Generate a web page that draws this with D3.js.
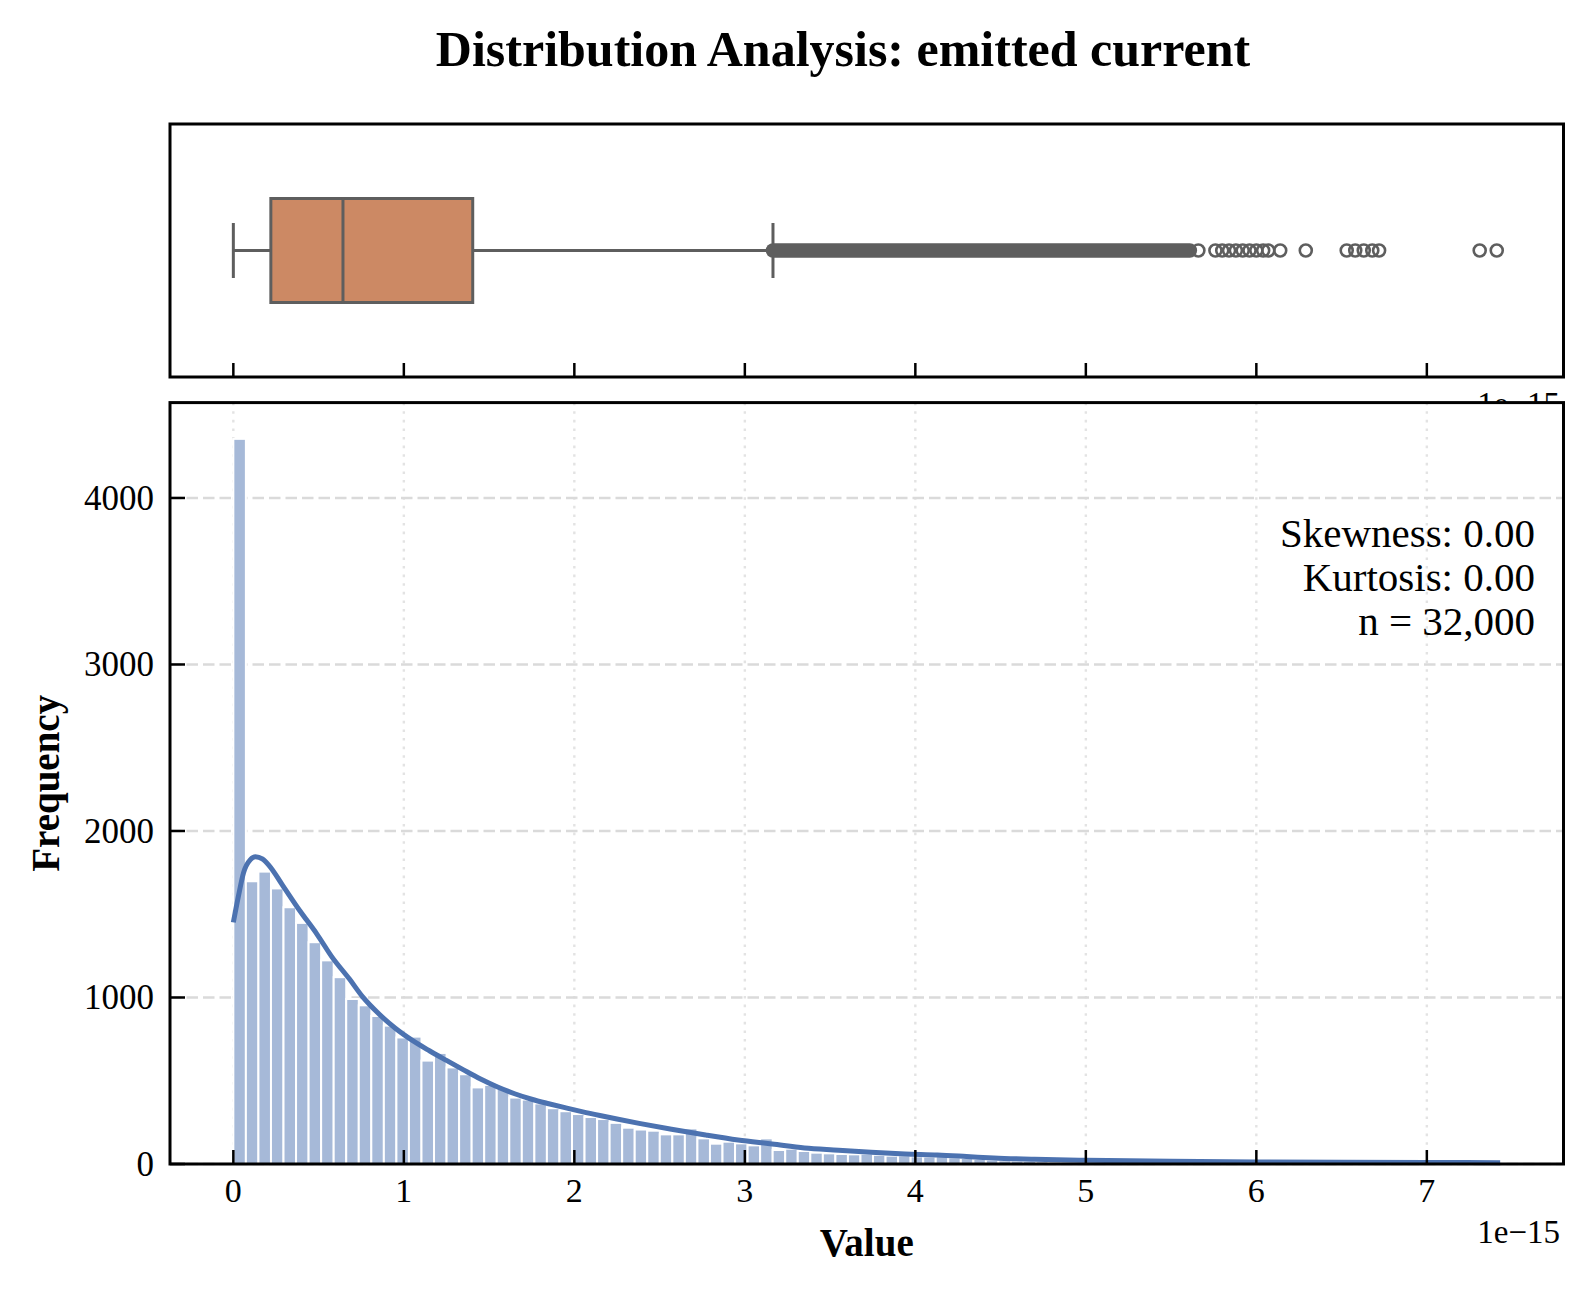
<!DOCTYPE html>
<html>
<head>
    <title>Distribution Analysis: emitted current</title>
    <script src="https://d3js.org/d3.v7.min.js"></script>
    <style>
        body { margin: 0; background: #fff; }
        svg text { font-family: "Liberation Serif", "Times New Roman", serif; fill: #000; }
    </style>
</head>
<body>
    <div id="chart"></div>

    <script>
        // histogram counts, values in units of 1e-15 (101 bins from 0 to dataMax)
        const dataMax = 7.43;
        const histCounts = [
            4355, 1698, 1756, 1655, 1542, 1448, 1332, 1223, 1122, 991,
            953, 889, 831, 760, 765, 621, 667, 580, 539, 460,
            475, 451, 399, 387, 364, 335, 317, 300, 282, 270,
            247, 218, 207, 200, 178, 178, 214, 154, 122, 134,
            124, 112, 154, 84, 92, 78, 68, 64, 60, 58,
            62, 55, 50, 52, 46, 44, 48, 40, 36, 30,
            26, 22, 20, 18, 16, 14, 13, 12, 10, 9,
            8, 7, 7, 6, 5, 5, 4, 3, 3, 2,
            2, 3, 2, 1, 1, 1, 0, 0, 1, 1,
            2, 1, 0, 0, 0, 0, 0, 0, 0, 1,
            1
        ];

        // KDE curve: value / count pairs
        const kdeX = [0.00, 0.03, 0.06, 0.10, 0.13, 0.17, 0.21, 0.29, 0.39, 0.49,
                      0.58, 0.68, 0.76, 0.85, 0.95, 1.05, 1.15, 1.25, 1.35, 1.45,
                      1.55, 1.65, 1.75, 1.85, 1.95, 2.05, 2.15, 2.25, 2.38, 2.57,
                      2.77, 2.96, 3.16, 3.35, 3.55, 3.74, 3.94, 4.13, 4.30, 4.46,
                      4.70, 5.00, 5.50, 6.00, 6.50, 7.00, 7.43];
        const kdeY = [1451, 1610, 1750, 1828, 1845, 1832, 1792, 1672, 1521, 1381,
                      1241, 1112, 1002, 905, 815, 742, 680, 622, 565, 510,
                      462, 422, 389, 362, 337, 313, 291, 270, 244, 209,
                      174, 144, 120, 96, 83, 70, 60, 54, 45, 36,
                      28, 22, 16, 12, 10, 9, 8];

        // box plot summary
        const boxStats = { whiskerLo: 0.0, q1: 0.22, median: 0.643, q3: 1.404, whiskerHi: 3.165 };
        const denseOutlierRange = [3.165, 5.61];
        const outliers = [5.66, 5.76, 5.80, 5.84, 5.88, 5.92, 5.96, 6.00, 6.04, 6.07,
                          6.14, 6.29, 6.53, 6.58, 6.63, 6.68, 6.72, 7.31, 7.41];

        const xTicks = [0, 1, 2, 3, 4, 5, 6, 7];
        const yTicks = [0, 1000, 2000, 3000, 4000];
        const statLines = ["Skewness: 0.00", "Kurtosis: 0.00", "n = 32,000"];

        const width = 1594, height = 1296;
        const left = 170, right = 1563.5;
        const boxTop = 124, boxBottom = 377;
        const histTop = 402.6, histBottom = 1164;

        const binWidth = dataMax / histCounts.length;
        const bins = histCounts.map((c, i) => ({ x0: i * binWidth, x1: (i + 1) * binWidth, count: c }));

        const pad = dataMax * 0.05;
        const x = d3.scaleLinear().domain([-pad, dataMax + pad]).range([left, right]);
        const y = d3.scaleLinear().domain([0, d3.max(histCounts) * 1.05]).range([histBottom, histTop]);

        const svg = d3.select("#chart").append("svg")
            .attr("width", width)
            .attr("height", height);

        svg.append("rect").attr("width", width).attr("height", height).attr("fill", "#fff");

        // title
        svg.append("text")
            .attr("x", 843).attr("y", 66)
            .attr("text-anchor", "middle")
            .style("font-size", "50px").style("font-weight", "bold")
            .text("Distribution Analysis: emitted current");

        // ---------- box plot panel ----------
        const boxG = svg.append("g");
        const cy = (boxTop + boxBottom) / 2;
        const lineCol = "#5e5e5e";

        // offset text of the top axis, mostly hidden behind the lower panel
        svg.append("text")
            .attr("x", 1560).attr("y", 415)
            .attr("text-anchor", "end")
            .style("font-size", "33px")
            .text("1e\u221215");

        boxG.append("line")
            .attr("x1", x(boxStats.whiskerLo)).attr("x2", x(boxStats.q1))
            .attr("y1", cy).attr("y2", cy)
            .attr("stroke", lineCol).attr("stroke-width", 3);
        boxG.append("line")
            .attr("x1", x(boxStats.q3)).attr("x2", x(boxStats.whiskerHi))
            .attr("y1", cy).attr("y2", cy)
            .attr("stroke", lineCol).attr("stroke-width", 3);
        [boxStats.whiskerLo, boxStats.whiskerHi].forEach(v => {
            boxG.append("line")
                .attr("x1", x(v)).attr("x2", x(v))
                .attr("y1", cy - 27.5).attr("y2", cy + 27.5)
                .attr("stroke", lineCol).attr("stroke-width", 3);
        });
        boxG.append("rect")
            .attr("x", x(boxStats.q1)).attr("y", cy - 52)
            .attr("width", x(boxStats.q3) - x(boxStats.q1)).attr("height", 104)
            .attr("fill", "#cc8964")
            .attr("stroke", lineCol).attr("stroke-width", 3);
        boxG.append("line")
            .attr("x1", x(boxStats.median)).attr("x2", x(boxStats.median))
            .attr("y1", cy - 52).attr("y2", cy + 52)
            .attr("stroke", lineCol).attr("stroke-width", 3);

        // thousands of overlapping fliers form a solid band
        const r = 6;
        boxG.append("rect")
            .attr("x", x(denseOutlierRange[0]) - r - 1.25)
            .attr("y", cy - r - 1.25)
            .attr("width", x(denseOutlierRange[1]) - x(denseOutlierRange[0]) + 2 * r + 2.5)
            .attr("height", 2 * r + 2.5)
            .attr("rx", r + 1.25)
            .attr("fill", lineCol);
        boxG.selectAll("circle.out")
            .data(outliers)
            .enter()
            .append("circle")
            .attr("class", "out")
            .attr("cx", d => x(d)).attr("cy", cy).attr("r", r)
            .attr("fill", "none").attr("stroke", lineCol).attr("stroke-width", 2.6);

        boxG.selectAll("line.tick")
            .data(xTicks)
            .enter()
            .append("line")
            .attr("class", "tick")
            .attr("x1", d => x(d)).attr("x2", d => x(d))
            .attr("y1", boxBottom).attr("y2", boxBottom - 14)
            .attr("stroke", "#000").attr("stroke-width", 2.5);

        boxG.append("rect")
            .attr("x", left).attr("y", boxTop)
            .attr("width", right - left).attr("height", boxBottom - boxTop)
            .attr("fill", "none").attr("stroke", "#000").attr("stroke-width", 3);

        // ---------- histogram panel ----------
        svg.append("rect")
            .attr("x", left).attr("y", histTop)
            .attr("width", right - left).attr("height", histBottom - histTop)
            .attr("fill", "#fff");

        const histG = svg.append("g");
        svg.append("clipPath").attr("id", "histClip")
            .append("rect")
            .attr("x", left).attr("y", histTop)
            .attr("width", right - left).attr("height", histBottom - histTop);

        // grid
        histG.selectAll("line.vgrid")
            .data(xTicks)
            .enter()
            .append("line")
            .attr("class", "vgrid")
            .attr("x1", d => x(d)).attr("x2", d => x(d))
            .attr("y1", histTop).attr("y2", histBottom)
            .attr("stroke", "#e3e3e3").attr("stroke-width", 2.4)
            .attr("stroke-dasharray", "2.6,6");
        histG.selectAll("line.hgrid")
            .data(yTicks)
            .enter()
            .append("line")
            .attr("class", "hgrid")
            .attr("x1", left).attr("x2", right)
            .attr("y1", d => y(d)).attr("y2", d => y(d))
            .attr("stroke", "#dadada").attr("stroke-width", 2.4)
            .attr("stroke-dasharray", "11.5,5");

        histG.append("g")
            .attr("clip-path", "url(#histClip)")
            .selectAll("rect")
            .data(bins.filter(b => b.count > 0))
            .enter()
            .append("rect")
            .attr("x", d => x(d.x0))
            .attr("y", d => y(d.count))
            .attr("width", d => x(d.x1) - x(d.x0))
            .attr("height", d => y(0) - y(d.count))
            .attr("fill", "#a6b9d8")
            .attr("stroke", "#fff").attr("stroke-width", 2);

        const kde = d3.line()
            .x(d => x(d[0]))
            .y(d => y(d[1]))
            .curve(d3.curveMonotoneX);

        histG.append("path")
            .datum(kdeX.map((v, i) => [v, kdeY[i]]))
            .attr("d", kde)
            .attr("fill", "none")
            .attr("stroke", "#4c72b0")
            .attr("stroke-width", 5)
            .attr("stroke-linecap", "butt");

        // ticks (inward)
        histG.selectAll("line.xt")
            .data(xTicks)
            .enter()
            .append("line")
            .attr("x1", d => x(d)).attr("x2", d => x(d))
            .attr("y1", histBottom).attr("y2", histBottom - 14)
            .attr("stroke", "#000").attr("stroke-width", 2.5);
        histG.selectAll("line.yt")
            .data(yTicks)
            .enter()
            .append("line")
            .attr("x1", left).attr("x2", left + 15)
            .attr("y1", d => y(d)).attr("y2", d => y(d))
            .attr("stroke", "#000").attr("stroke-width", 2.5);

        histG.append("rect")
            .attr("x", left).attr("y", histTop)
            .attr("width", right - left).attr("height", histBottom - histTop)
            .attr("fill", "none").attr("stroke", "#000").attr("stroke-width", 3);

        // tick labels
        svg.selectAll("text.xl")
            .data(xTicks)
            .enter()
            .append("text")
            .attr("x", d => x(d)).attr("y", 1202)
            .attr("text-anchor", "middle")
            .style("font-size", "34px")
            .text(d => d);
        svg.selectAll("text.yl")
            .data(yTicks)
            .enter()
            .append("text")
            .attr("x", 154).attr("y", d => y(d))
            .attr("dy", "0.34em")
            .attr("text-anchor", "end")
            .style("font-size", "35px")
            .text(d => d);

        svg.append("text")
            .attr("x", 1560).attr("y", 1243)
            .attr("text-anchor", "end")
            .style("font-size", "33px")
            .text("1e\u221215");

        // axis labels
        svg.append("text")
            .attr("x", (left + right) / 2).attr("y", 1256)
            .attr("text-anchor", "middle")
            .style("font-size", "39px").style("font-weight", "bold")
            .text("Value");
        svg.append("text")
            .attr("transform", `translate(59,${(histTop + histBottom) / 2}) rotate(-90)`)
            .attr("text-anchor", "middle")
            .style("font-size", "39px").style("font-weight", "bold")
            .text("Frequency");

        // stats box
        svg.selectAll("text.stat")
            .data(statLines)
            .enter()
            .append("text")
            .attr("x", 1535)
            .attr("y", (d, i) => 547 + i * 44)
            .attr("text-anchor", "end")
            .style("font-size", "41px")
            .text(d => d);
    </script>
</body>
</html>
